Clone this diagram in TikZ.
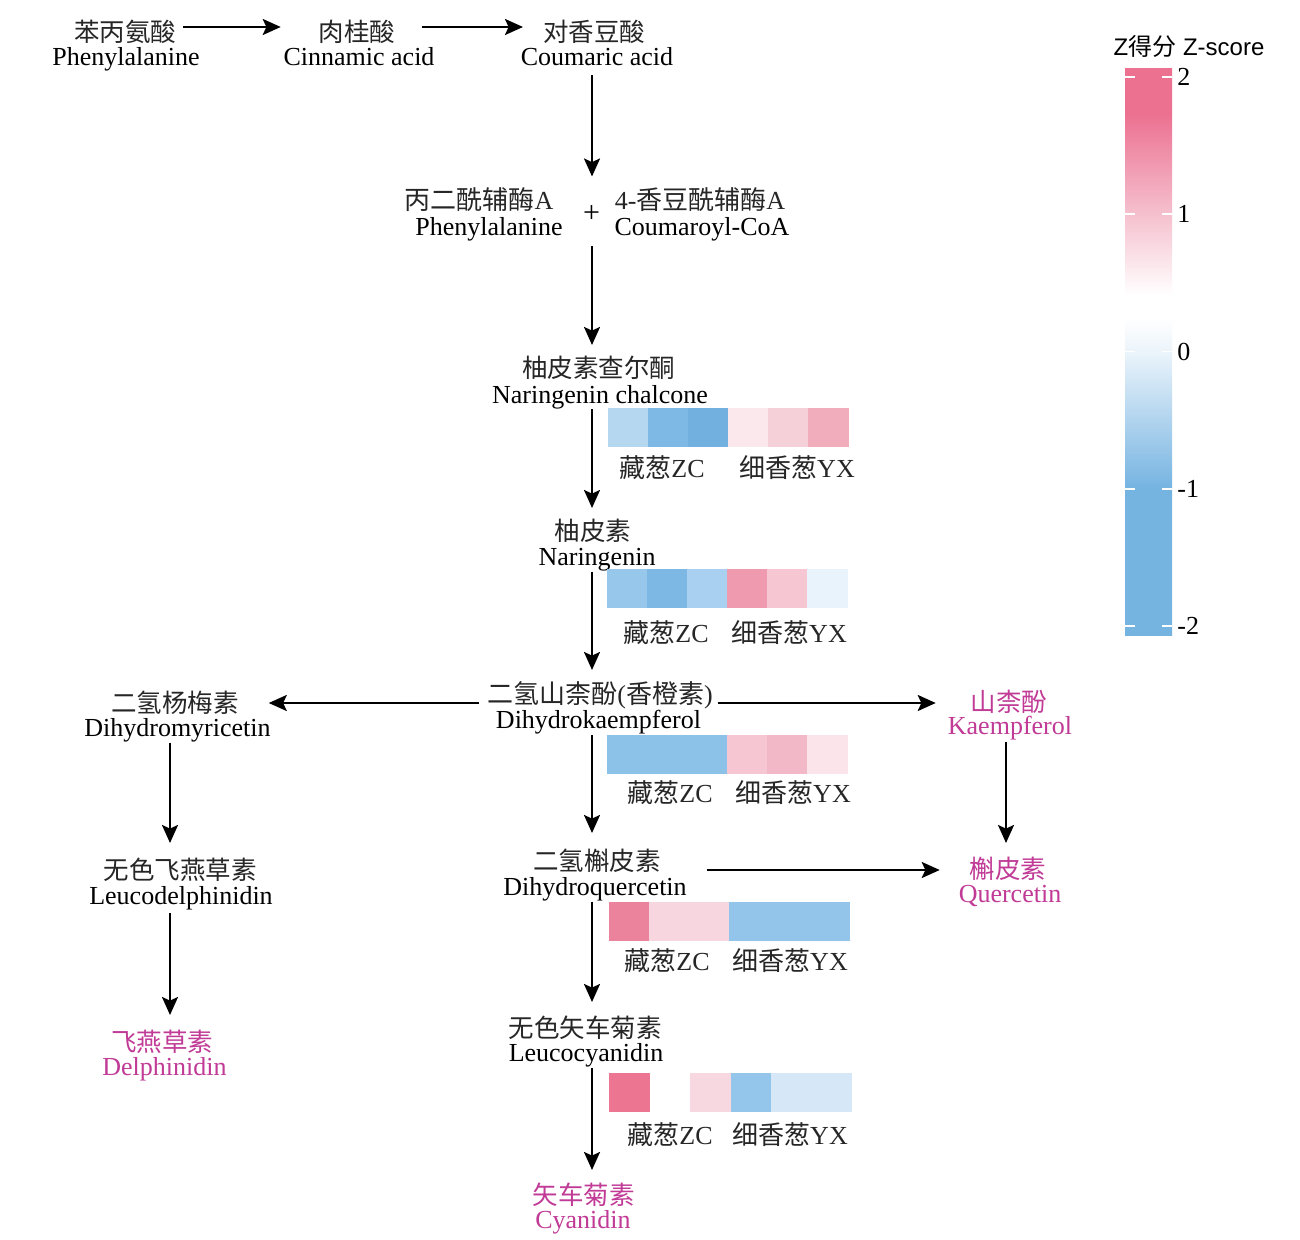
\documentclass[tikz,border=0pt]{standalone}
\usepackage{fontspec}
\setmainfont{Liberation Serif}
\newfontfamily\cjkf{Noto Sans CJK SC}
\newfontfamily\sansf{Liberation Sans}
\usetikzlibrary{arrows.meta,calc}
\definecolor{mag}{RGB}{192,58,150}
\definecolor{zblue}{RGB}{117,179,225}
\definecolor{zblueO}{RGB}{235,244,251}
\definecolor{zpinkA}{RGB}{245,192,206}
\definecolor{zpinkB}{RGB}{236,113,145}
\pgfdeclareverticalshading{zbar}{100bp}{color(0bp)=(zblue); color(37.9bp)=(zblue); color(50bp)=(zblueO); color(53bp)=(white); color(55bp)=(white); color(62.2bp)=(zpinkA); color(71bp)=(zpinkB); color(100bp)=(zpinkB)}
\newcommand{\zh}[1]{{\cjkf #1}}
\newcommand{\hcell}[3]{\definecolor{tmpc}{HTML}{#3}\fill[tmpc] (#1,#2) rectangle ++(40.6,39);}
\begin{document}
\begin{tikzpicture}[x=0.5pt,y=-0.5pt,
  cn/.style={font=\cjkf\fontsize{12.75}{14}\selectfont, text=black!85, anchor=base, inner sep=0pt, outer sep=0pt, text height=10.5pt, text depth=1.5pt},
  mx/.style={font=\fontsize{13}{14}\selectfont, text=black!85, anchor=base, inner sep=0pt, outer sep=0pt, text height=10.5pt, text depth=1.5pt},
  en/.style={font=\fontsize{13}{14}\selectfont, text=black, anchor=base, inner sep=0pt, outer sep=0pt, text height=9pt, text depth=3pt},
  fin/.style={text=mag},
  arr/.style={-{Stealth[length=9pt,width=8pt,inset=1.8pt]}, line width=1.15pt},
  tickm/.style={white, line width=0.8pt},
  num/.style={font=\fontsize{13}{14}\selectfont, anchor=west, inner sep=0pt}]
\useasboundingbox (0,0) rectangle (1300,1240);
\fill[white] (0,0) rectangle (1300,1240);

% columns
\coordinate (ax) at (592,0);
\coordinate (bx) at (170,0);
\coordinate (kx) at (1006,0);

% top row
\node[cn] (phe) at (125,42) {苯丙氨酸};
\node[en] (phe-en) at (126,65.5) {Phenylalanine};
\node[cn] (cin) at (357,42) {肉桂酸};
\node[en] (cin-en) at (359,65.5) {Cinnamic acid};
\node[cn] (cou) at (594,42) {对香豆酸};
\node[en] (cou-en) at (597,65.5) {Coumaric acid};

% malonyl + coumaroyl
\node[mx] (mal) at (479,210) {\zh{丙二酰辅酶}A};
\node[en] (mal-en) at (489,235.5) {Phenylalanine};
\node[font=\fontsize{15}{16}\selectfont, inner sep=0pt, outer sep=0pt, text height=5.5pt, text depth=0pt] (plus) at (591.5,217) {+};
\node[mx] (cmal) at (700,210) {4-\zh{香豆酰辅酶}A};
\node[en] (cmal-en) at (702,235.5) {Coumaroyl-CoA};

% main column
\node[cn] (cha) at (598.5,378) {柚皮素查尔酮};
\node[en] (cha-en) at (600,403.5) {Naringenin chalcone};
\node[cn] (nar) at (593,540) {柚皮素};
\node[en] (nar-en) at (597,565.5) {Naringenin};
\node[mx] (dhk) at (600,703) {\zh{二氢山柰酚}(\zh{香橙素})};
\node[en] (dhk-en) at (598.5,728.5) {Dihydrokaempferol};
\node[cn] (dhq) at (597,870) {二氢槲皮素};
\node[en] (dhq-en) at (595,895.5) {Dihydroquercetin};
\node[cn] (lcy) at (585,1037) {无色矢车菊素};
\node[en] (lcy-en) at (586,1061.5) {Leucocyanidin};
\node[cn,fin] (cya) at (583.5,1204) {矢车菊素};
\node[en,fin] (cya-en) at (583,1228.5) {Cyanidin};

% left column
\node[cn] (dhm) at (175,712) {二氢杨梅素};
\node[en] (dhm-en) at (177.5,736.5) {Dihydromyricetin};
\node[cn] (lde) at (180,879) {无色飞燕草素};
\node[en] (lde-en) at (181,904.5) {Leucodelphinidin};
\node[cn,fin] (del) at (162,1051) {飞燕草素};
\node[en,fin] (del-en) at (164.5,1075.5) {Delphinidin};

% right column
\node[cn,fin] (kae) at (1009,711) {山柰酚};
\node[en,fin] (kae-en) at (1010,734.5) {Kaempferol};
\node[cn,fin] (que) at (1008,878) {槲皮素};
\node[en,fin] (que-en) at (1010,902.5) {Quercetin};

% arrows
\draw[arr, shorten <=3.5pt, shorten >=19pt] ([yshift=3pt]phe.east) -- ([yshift=3pt]phe.east -| cin.west);
\draw[arr, shorten <=13.5pt, shorten >=10pt] ([yshift=3pt]cin.east) -- ([yshift=3pt]cin.east -| cou.west);
\draw[arr, shorten <=1.75pt, shorten >=17.5pt] (cou-en.south -| ax) -- (plus.north -| ax);
\draw[arr, shorten <=12pt, shorten >=6pt] (plus.south -| ax) -- (cha.north -| ax);
\draw[arr, shorten >=5.5pt] (cha-en.south -| ax) -- (nar.north -| ax);
\draw[arr, shorten >=6pt] (nar-en.south -| ax) -- (dhk.north -| ax);
\draw[arr, shorten >=8pt] (dhk-en.south -| ax) -- (dhq.north -| ax);
\draw[arr, shorten >=7pt] (dhq-en.south -| ax) -- (lcy.north -| ax);
\draw[arr, shorten >=6.5pt] (lcy-en.south -| ax) -- (cya.north -| ax);
\draw[arr, shorten <=4pt, shorten >=15pt] ([yshift=-4.5pt]dhk.west) -- ([yshift=-4.5pt]dhk.west -| dhm.east);
\draw[arr, shorten <=2.5pt, shorten >=17.5pt] ([yshift=-4.5pt]dhk.east) -- ([yshift=-4.5pt]dhk.east -| kae.west);
\draw[arr, shorten >=7.5pt] (dhm-en.south -| bx) -- (lde.north -| bx);
\draw[arr, shorten <=1.25pt, shorten >=7.5pt] (lde-en.south -| bx) -- (del.north -| bx);
\draw[arr, shorten <=0.75pt, shorten >=7pt] (kae-en.south -| kx) -- (que.north -| kx);
\draw[arr, shorten <=23pt, shorten >=15pt] ([yshift=-4.5pt]dhq.east) -- ([yshift=-4.5pt]dhq.east -| que.west);

% heatmaps
\hcell{608}{408}{B5D7F0}\hcell{648}{408}{7EB8E4}\hcell{688}{408}{72B0E0}\hcell{728}{408}{FBE8EC}\hcell{768}{408}{F6D0D9}\hcell{808}{408}{F2ADBD}
\hcell{607}{569}{98C7EC}\hcell{647}{569}{7DB7E3}\hcell{687}{569}{A9D0F0}\hcell{727}{569}{EF9AAE}\hcell{767}{569}{F6C6D2}\hcell{807}{569}{E9F3FB}
\hcell{607}{735}{8CC1E8}\hcell{647}{735}{8CC1E8}\hcell{687}{735}{8CC1E8}\hcell{727}{735}{F6C6D2}\hcell{767}{735}{F3B8C7}\hcell{807}{735}{FBE5EB}
\hcell{609}{902}{EC839D}\hcell{649}{902}{F8D6DF}\hcell{689}{902}{F8D6DF}\hcell{729}{902}{93C5EA}\hcell{769}{902}{93C5EA}\hcell{809}{902}{93C5EA}
\hcell{609}{1073}{EC7591}\hcell{649.5}{1073}{FFFFFF}\hcell{690}{1073}{F8D8E0}\hcell{730.5}{1073}{94C6EB}\hcell{771}{1073}{D6E8F7}\hcell{811.5}{1073}{D6E8F7}

% heatmap labels
\node[mx] (z1) at (662,478) {\zh{藏葱}ZC};
\node[mx] (y1) at (797,478) {\zh{细香葱}YX};
\node[mx] (z2) at (666,642) {\zh{藏葱}ZC};
\node[mx] (y2) at (789,642) {\zh{细香葱}YX};
\node[mx] (z3) at (670,802) {\zh{藏葱}ZC};
\node[mx] (y3) at (793,802) {\zh{细香葱}YX};
\node[mx] (z4) at (667,970) {\zh{藏葱}ZC};
\node[mx] (y4) at (790,970) {\zh{细香葱}YX};
\node[mx] (z5) at (670,1144) {\zh{藏葱}ZC};
\node[mx] (y5) at (790,1144) {\zh{细香葱}YX};

% colour bar
\node[font=\sansf\fontsize{12}{14}\selectfont, anchor=base, inner sep=0pt] (ztitle) at (1189,56) {Z\zh{得分} Z-score};
\shade[shading=zbar] (1125,69) rectangle (1172,635);
\foreach \yy/\lab [count=\k] in {77/2,214/1,351.5/0,489/-1,626/-2}{
  \draw[tickm] (1125,\yy) -- (1135,\yy) (1162,\yy) -- (1172,\yy);
  \node[num] (tk\k) at (1177,\yy) {\lab};
}
\end{tikzpicture}
\end{document}
